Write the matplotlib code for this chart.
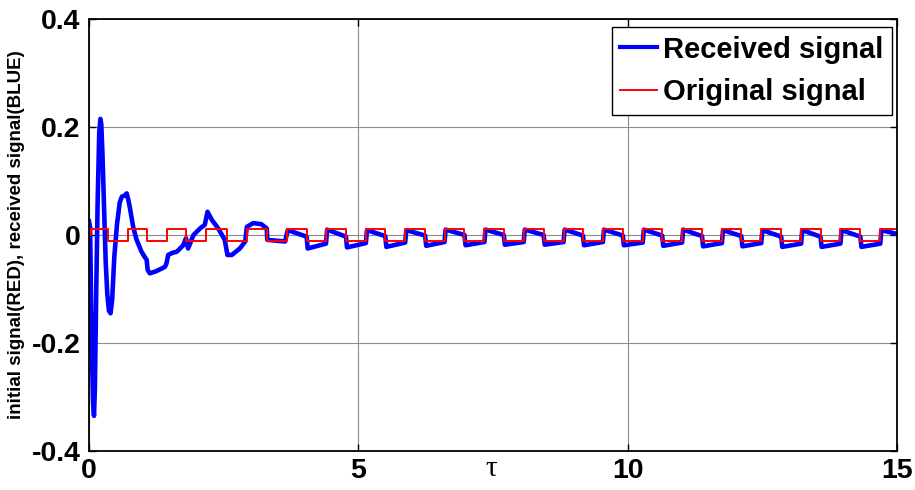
import matplotlib
matplotlib.use("Agg")
import matplotlib.pyplot as plt

# ---------------- data ----------------
# transient part of the received (blue) signal
blue_trans_t = [0.00, 0.02, 0.05, 0.075, 0.093, 0.11, 0.135, 0.16, 0.19, 0.212, 0.228,
                0.25, 0.28, 0.31, 0.34, 0.37, 0.40, 0.43, 0.47, 0.52, 0.57, 0.61,
                0.66, 0.70, 0.73, 0.76, 0.82, 0.88, 0.93, 0.97, 1.03, 1.07, 1.09,
                1.13, 1.25, 1.41, 1.44, 1.47, 1.55, 1.63, 1.75, 1.80, 1.84, 1.94,
                2.06, 2.15, 2.20, 2.28, 2.40, 2.52, 2.57, 2.65, 2.80, 2.90, 2.93,
                3.05, 3.20, 3.30, 3.31, 3.64]
blue_trans_y = [0.025, 0.015, -0.20, -0.31, -0.335, -0.28, -0.10, 0.06, 0.19, 0.215, 0.205,
                0.15, 0.05, -0.05, -0.11, -0.14, -0.145, -0.12, -0.04, 0.02, 0.06, 0.071,
                0.073, 0.077, 0.065, 0.050, 0.015, -0.008, -0.020, -0.030, -0.040, -0.046, -0.065,
                -0.071, -0.067, -0.059, -0.052, -0.037, -0.033, -0.031, -0.019, -0.006, -0.025, 0.000,
                0.012, 0.019, 0.043, 0.028, 0.012, -0.009, -0.037, -0.037, -0.025, -0.012, 0.015,
                0.022, 0.020, 0.012, -0.009, -0.012]

# steady, periodic part: edge times and levels of each cycle
up_edges   = [3.67, 4.40, 5.14, 5.87, 6.60, 7.34, 8.07, 8.81, 9.54, 10.28,
              11.01, 11.75, 12.48, 13.22, 13.95, 14.69]
down_edges = [4.04, 4.77, 5.50, 6.24, 6.97, 7.70, 8.44, 9.17, 9.91, 10.64,
              11.38, 12.11, 12.85, 13.58, 14.32]
high_start = [0.009, 0.010, 0.009, 0.009, 0.010, 0.010, 0.010, 0.010, 0.010, 0.010,
              0.010, 0.009, 0.009, 0.009, 0.009, 0.009]
high_end   = [-0.003, -0.003, -0.002, -0.001, 0.000, 0.000, 0.000, -0.001, -0.001, -0.001,
              -0.002, -0.002, -0.003, -0.003, -0.003, 0.002]
low_start  = [-0.025, -0.023, -0.022, -0.020, -0.019, -0.018, -0.018, -0.019, -0.019, -0.020,
              -0.021, -0.021, -0.022, -0.022, -0.022]
low_end    = [-0.016, -0.015, -0.014, -0.013, -0.013, -0.013, -0.013, -0.013, -0.014, -0.014,
              -0.015, -0.015, -0.016, -0.016, -0.016]
t_end = 15.0

# original (red) square wave: edge times and the level after each edge
red_edge_t = [0.00, 0.03, 0.35, 0.72, 1.08, 1.45, 1.81, 2.18, 2.56, 2.93, 3.30,
              3.67, 4.04, 4.40, 4.77, 5.14, 5.50, 5.87, 6.24, 6.60, 6.97, 7.34,
              7.70, 8.07, 8.44, 8.81, 9.17, 9.54, 9.91, 10.28, 10.64, 11.01, 11.38,
              11.75, 12.11, 12.48, 12.85, 13.22, 13.58, 13.95, 14.32, 14.69, 15.00]
red_edge_v = [0.0, 0.011, -0.011, 0.011, -0.011, 0.011, -0.011, 0.011, -0.011, 0.011, -0.011,
              0.011, -0.011, 0.011, -0.011, 0.011, -0.011, 0.011, -0.011, 0.011, -0.011, 0.011,
              -0.011, 0.011, -0.011, 0.011, -0.011, 0.011, -0.011, 0.011, -0.011, 0.011, -0.011,
              0.011, -0.011, 0.011, -0.011, 0.011, -0.011, 0.011, -0.011, 0.011, 0.011]

x_ticks = [0, 5, 10, 15]
y_ticks = [-0.4, -0.2, 0, 0.2, 0.4]
x_tick_labels = ["0", "5", "10", "15"]
y_tick_labels = ["-0.4", "-0.2", "0", "0.2", "0.4"]

# ---------------- assemble blue polyline from read values ----------------
lag = 0.02
bt = list(blue_trans_t)
by = list(blue_trans_y)
for i, tu in enumerate(up_edges):
    bt += [tu + lag]
    by += [high_start[i]]
    if i < len(down_edges):
        td = down_edges[i]
        bt += [td, td + lag]
        by += [high_end[i], low_start[i]]
        nxt = up_edges[i + 1]
        bt += [nxt]
        by += [low_end[i]]
    else:
        bt += [t_end]
        by += [high_end[i]]

# ---------------- plot ----------------
plt.rcParams['font.family'] = ['Liberation Sans', 'DejaVu Sans']
plt.rcParams['font.weight'] = 'bold'

fig = plt.figure(figsize=(9.15, 4.9), dpi=100)
ax = fig.add_axes([89 / 915, 1 - 451 / 490, 808 / 915, 432 / 490])

ax.plot(bt, by, color='#0000ff', lw=3.3, label='Received signal', solid_joinstyle='round')
ax.plot(red_edge_t, red_edge_v, color='#ff0000', lw=1.4, drawstyle='steps-post',
        label='Original signal')

ax.set_xlim(0, 15)
ax.set_ylim(-0.4, 0.4)
ax.set_xticks(x_ticks)
ax.set_xticklabels(x_tick_labels)
ax.set_yticks(y_ticks)
ax.set_yticklabels(y_tick_labels)
ax.tick_params(axis='both', which='major', direction='in', length=5, width=1,
               top=True, right=True, labelsize=20.5, colors='black')
ax.tick_params(axis='x', pad=5)
ax.tick_params(axis='y', pad=6)
for lab in ax.get_xticklabels() + ax.get_yticklabels():
    lab.set_fontweight('bold')

ax.grid(True, color='#8c8c8c', lw=0.8, ls='-')
ax.set_axisbelow(True)
for sp in ax.spines.values():
    sp.set_linewidth(1.3)
    sp.set_color('black')

ax.set_xlabel('τ', fontsize=21, fontweight='normal', family=['Liberation Serif', 'DejaVu Serif'])
ax.xaxis.set_label_coords(0.4975, -0.012, transform=ax.transAxes)
ax.xaxis.label.set_va('top')

ax.set_ylabel('initial signal(RED), received signal(BLUE)', fontsize=13.5, fontweight='bold')
ax.yaxis.set_label_coords(-0.079, 0.5)

leg = ax.legend(loc='upper right', bbox_to_anchor=(0.9934, 0.982), borderaxespad=0,
                fancybox=False, framealpha=1, edgecolor='black',
                prop={'family': 'Liberation Sans', 'weight': 'bold', 'size': 21},
                handlelength=1.25, handletextpad=0.2, borderpad=0.3, labelspacing=0.5)
leg.get_frame().set_linewidth(1.0)
leg.legend_handles[0].set_linewidth(3.0)
leg.legend_handles[1].set_linewidth(1.4)

fig.savefig('out.png', dpi=100)
